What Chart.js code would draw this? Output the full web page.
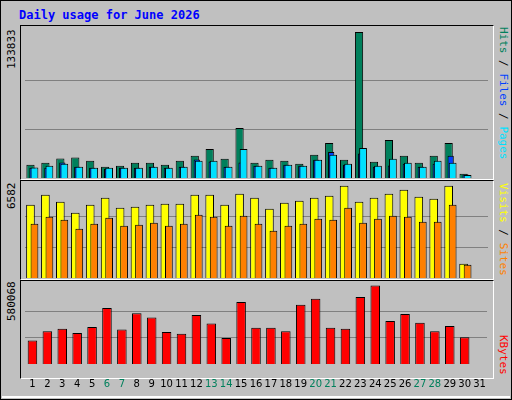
<!DOCTYPE html>
<html lang="en">
<head>
<meta charset="UTF-8">
<title>Daily usage for June 2026</title>
<script src="https://cdn.jsdelivr.net/npm/chart.js"></script>
<style>
  body { margin: 0; background: #c0c0c0; }
  #box { position: relative; width: 510px; height: 398px; border: 1px solid #000; background: #c0c0c0; font-family: "DejaVu Sans Mono", monospace; }
  .title { position: absolute; left: 18px; top: 7px; color: #0000ff; font-weight: bold; font-size: 12px; }
  .panel { position: absolute; left: 19px; width: 472px; border-top: 1px solid #000; border-left: 1px solid #000; border-right: 1px solid #fff; border-bottom: 1px solid #fff; }
  canvas.c { position: absolute; }
  .vl { position: absolute; font-size: 11px; white-space: pre; transform-origin: 0 0; }
</style>
</head>
<body>
<div id="box">
  <div class="title">Daily usage for June 2026</div>
  <div class="panel" style="top:24px;height:153px"></div>
  <div class="panel" style="top:179px;height:98px"></div>
  <div class="panel" style="top:279px;height:97px"></div>
  <div style="position:absolute;left:1px;top:395px;width:508px;height:2px;background:#fff"></div>
  <canvas class="c" id="c1" style="left:20px;top:25px;width:471px;height:152px"></canvas>
  <canvas class="c" id="c2" style="left:20px;top:180px;width:471px;height:97px"></canvas>
  <canvas class="c" id="c3" style="left:20px;top:280px;width:471px;height:115px"></canvas>
  <div class="vl" style="left:4px;top:68px;transform:rotate(-90deg)">133833</div>
  <div class="vl" style="left:4px;top:208px;transform:rotate(-90deg)">6582</div>
  <div class="vl" style="left:4px;top:320px;transform:rotate(-90deg)">580068</div>
  <div class="vl" style="left:509px;top:26px;transform:rotate(90deg)"><span style="color:#00805c">Hits</span> / <span style="color:#0040ff">Files</span> / <span style="color:#00e0ff">Pages</span></div>
  <div class="vl" style="left:509px;top:182px;transform:rotate(90deg)"><span style="color:#ffff00">Visits</span> / <span style="color:#ff8000">Sites</span></div>
  <div class="vl" style="left:509px;top:334px;transform:rotate(90deg)"><span style="color:#ff0000">KBytes</span></div>
</div>
<script>
  const days = ['1','2','3','4','5','6','7','8','9','10','11','12','13','14','15','16','17','18','19','20','21','22','23','24','25','26','27','28','29','30','31'];
  const weekend = ['6','7','13','14','20','21','27','28'];
  const hits = [12100,13900,17900,18800,15700,10300,11200,13900,13900,12100,15700,20300,26600,17600,45700,13900,16700,15700,13000,21200,32100,16700,133833,14800,34800,20300,13900,20300,32100,3900,null];
  const files = [9400,9400,14200,10300,9400,8500,9400,9400,10300,9400,10300,17000,15100,10300,14200,11200,9400,12100,11200,16700,23900,12100,22400,10300,11500,13000,10300,13000,20300,3300,null];
  const pages = [9700,11200,13000,10300,9400,9400,9400,9400,10300,9400,10300,15700,15700,10300,26600,11200,9400,12100,11200,16700,21200,13000,27500,11200,17600,13900,10300,15700,13900,2700,null];
  const visits = [5227,5940,5441,4657,5227,5726,5013,5085,5227,5298,5298,5940,5940,5227,6011,5726,4942,5370,5512,5726,5869,6582,5441,5726,6011,6296,5797,5655,6582,1022,null];
  const sites = [3873,4372,4158,3516,3873,4301,3730,3802,3944,3730,3873,4514,4372,3730,4443,3873,3374,3730,3873,4229,4158,5013,3944,4229,4443,4372,4015,4015,5227,950,null];
  const kbytes = [172900,242500,261500,229900,274200,413400,255200,375400,343800,236200,223600,362700,299500,191900,457700,267800,267800,242500,438700,483000,267800,261500,495600,580068,318500,369100,305800,242500,280500,198200,null];

  // shift each dataset sideways a few pixels so the bars overlap like the original
  const shiftPlugin = {
    id: 'shift',
    beforeDatasetDraw(chart, args) {
      const s = chart.data.datasets[args.index].shift || 0;
      chart.ctx.save();
      chart.ctx.translate(s, 0);
    },
    afterDatasetDraw(chart) { chart.ctx.restore(); }
  };

  function bar(data, color, pct, shift, order) {
    return { data: data, backgroundColor: color, borderColor: '#000', borderWidth: 1,
             grouped: false, barPercentage: pct, categoryPercentage: 1, shift: shift, order: order };
  }

  function panel(id, datasets, max, showDays) {
    return new Chart(document.getElementById(id), {
      type: 'bar',
      data: { labels: days, datasets: datasets },
      options: {
        responsive: false, animation: false, devicePixelRatio: 1,
        layout: { padding: { top: 3, left: 4, right: 4 } },
        plugins: { legend: { display: false }, tooltip: { enabled: false } },
        scales: {
          x: {
            display: showDays,
            grid: { display: false }, border: { display: false },
            ticks: {
              font: { family: 'DejaVu Sans', size: 10 }, padding: 6, autoSkip: false, maxRotation: 0,
              color: ctx => weekend.includes(days[ctx.index]) ? '#00805c' : '#000'
            }
          },
          y: {
            min: 0, max: max * 1.02,
            afterBuildTicks: axis => { axis.ticks = [1, 2].map(k => ({ value: max * k / 3 })); },
            ticks: { display: false },
            grid: { color: '#808080', drawTicks: false },
            border: { display: false }
          }
        }
      },
      plugins: [shiftPlugin]
    });
  }

  panel('c1', [
    bar(hits, '#00805c', 0.55, -2, 3),
    bar(files, '#0040ff', 0.42, 0, 2),
    bar(pages, '#00e0ff', 0.52, 2, 1)
  ], 133833, false);
  panel('c2', [
    bar(visits, '#ffff00', 0.58, -2, 2),
    bar(sites, '#ff8000', 0.52, 2, 1)
  ], 6582, false);
  panel('c3', [
    bar(kbytes, '#ff0000', 0.64, 0, 1)
  ], 580068, true);
</script>
</body>
</html>
